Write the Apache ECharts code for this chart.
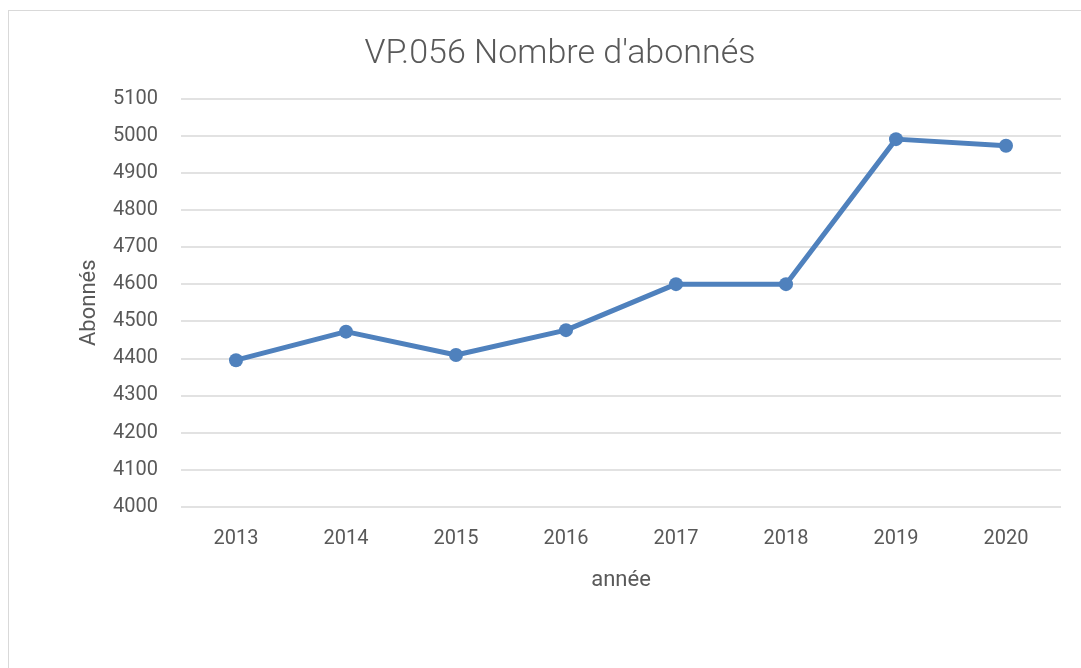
<!DOCTYPE html>
<html>
<head>
<meta charset="utf-8">
<script src="https://cdn.jsdelivr.net/npm/echarts@6/dist/echarts.min.js"></script>
<style>
html,body{margin:0;padding:0;background:#fff;}
#frame{position:absolute;left:8px;top:10px;width:1100px;height:700px;border:1.5px solid #d9d9d9;}
#chart{position:absolute;left:0;top:0;width:1081px;height:668px;}
</style>
</head>
<body>
<div id="frame"></div>
<div id="chart"></div>
<script>
const titleText = "VP.056 Nombre d'abonnés";
const years = ['2013','2014','2015','2016','2017','2018','2019','2020'];
const abonnes = [4395, 4472, 4409, 4476, 4600, 4600, 4991, 4973];
const xAxisName = 'année';
const yAxisName = 'Abonnés';

const chart = echarts.init(document.getElementById('chart'));
const font = 'Roboto, "Open Sans", sans-serif';
chart.setOption({
  animation: false,
  title: {
    text: titleText,
    left: 555, top: 32,
    textAlign: 'center',
    textStyle: {fontFamily: font, fontSize: 34, fontWeight: 300, color: '#595959'}
  },
  grid: {left: 181, right: 20, top: 98.7, bottom: 161.3, containLabel: false},
  xAxis: {
    type: 'category',
    data: years,
    name: xAxisName,
    nameLocation: 'middle',
    nameGap: 63,
    nameTextStyle: {fontFamily: font, fontSize: 22, color: '#595959'},
    axisLine: {show: false},
    axisTick: {show: false},
    axisLabel: {fontFamily: font, fontSize: 20, color: '#595959', margin: 22}
  },
  yAxis: {
    type: 'value',
    min: 4000, max: 5100, interval: 100,
    name: yAxisName,
    nameLocation: 'middle',
    nameGap: 81,
    nameRotate: 90,
    nameTextStyle: {fontFamily: font, fontSize: 22, color: '#595959'},
    axisLine: {show: false},
    axisTick: {show: false},
    axisLabel: {fontFamily: font, fontSize: 20, color: '#595959', margin: 23, formatter: v => String(v)},
    splitLine: {lineStyle: {color: '#d9d9d9', width: 1.5}}
  },
  series: [{
    type: 'line',
    data: abonnes,
    symbol: 'circle',
    symbolSize: 14,
    lineStyle: {color: '#4f81bd', width: 5},
    itemStyle: {color: '#4f81bd'}
  }]
});
</script>
</body>
</html>
